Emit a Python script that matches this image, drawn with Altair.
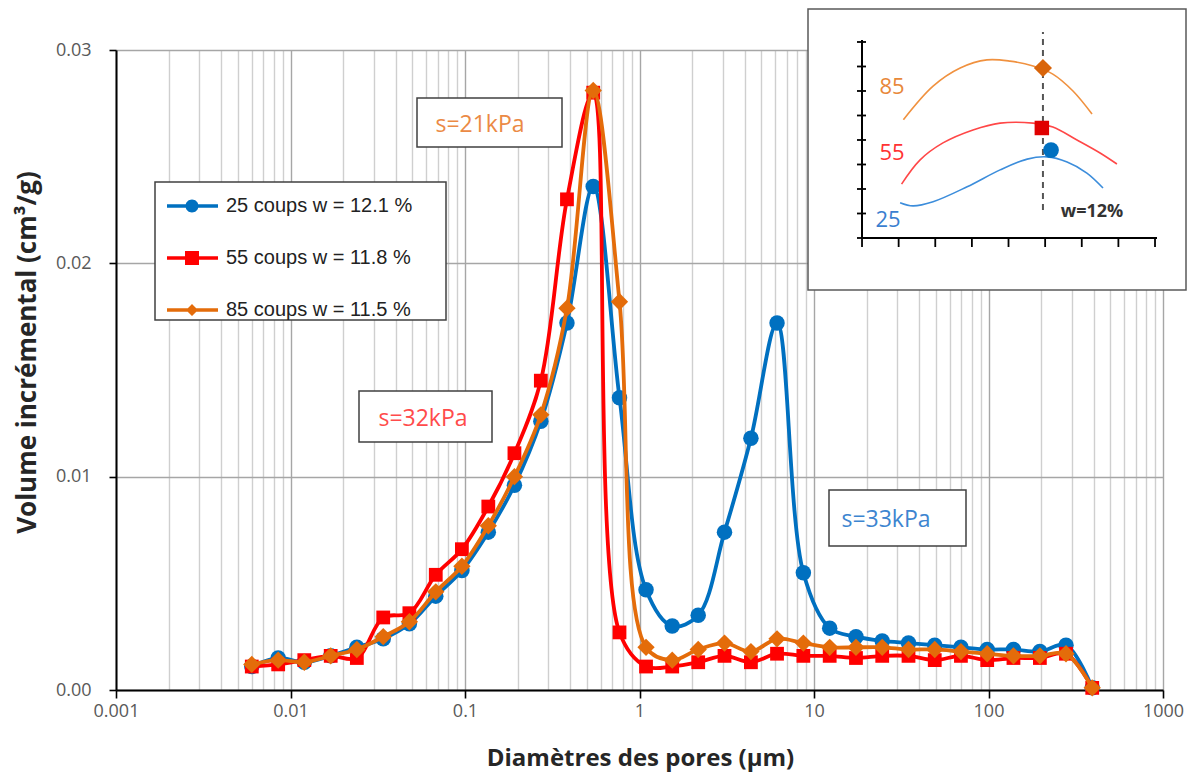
import altair as alt
import pandas as pd

# ---------------- data ----------------
diam = [0.006, 0.0085, 0.012, 0.017, 0.024, 0.034, 0.048, 0.068, 0.096, 0.136,
        0.192, 0.272, 0.384, 0.543, 0.768, 1.09, 1.54, 2.17, 3.07, 4.35,
        6.14, 8.69, 12.3, 17.4, 24.6, 34.8, 49.2, 69.5, 98.3, 139,
        197, 278, 393]
vol_25 = [0.0011, 0.0015, 0.0013, 0.0016, 0.0020, 0.0024, 0.0031, 0.0044, 0.0056, 0.0074,
          0.0096, 0.0126, 0.0172, 0.0236, 0.0137, 0.0047, 0.0030, 0.0035, 0.0074, 0.0118,
          0.0172, 0.0055, 0.0029, 0.0025, 0.0023, 0.0022, 0.0021, 0.0020, 0.0019, 0.0019,
          0.0018, 0.0021, 0.0001]
vol_55 = [0.0011, 0.0012, 0.0014, 0.0016, 0.0015, 0.0034, 0.0036, 0.0054, 0.0066, 0.0086,
          0.0111, 0.0145, 0.0230, 0.0280, 0.0027, 0.0011, 0.0011, 0.0013, 0.0016, 0.0013,
          0.0017, 0.0016, 0.0016, 0.0015, 0.0016, 0.0016, 0.0014, 0.0016, 0.0014, 0.0015,
          0.0015, 0.0017, 0.0001]
vol_85 = [0.0012, 0.0014, 0.0013, 0.0016, 0.0019, 0.0025, 0.0032, 0.0046, 0.0058, 0.0077,
          0.0100, 0.0129, 0.0179, 0.0281, 0.0182, 0.0020, 0.0014, 0.0019, 0.0022, 0.0018,
          0.0024, 0.0022, 0.0020, 0.0020, 0.0020, 0.0019, 0.0019, 0.0018, 0.0017, 0.0016,
          0.0016, 0.0017, 0.0001]

series_labels = ["25 coups w = 12.1 %", "55 coups w = 11.8 %", "85 coups w = 11.5 %"]
series_colors = ["#0070C0", "#FF0000", "#E46C0A"]
series_shapes = ["circle", "square", "diamond"]
series_sizes = [240, 190, 300]

y_ticks = [0, 0.01, 0.02, 0.03]
x_grid_values = [m * 10.0 ** e for e in range(-3, 3) for m in range(1, 10)] + [1000.0]

# inset (schematic) curves, in the inset's own units
ins_x_85 = [1.13, 1.94, 2.68, 3.41, 4.04, 4.67, 5.21, 5.76, 6.28]
ins_y_85 = [4.83, 6.20, 6.94, 7.27, 7.22, 7.02, 6.69, 6.00, 5.06]
ins_x_55 = [1.08, 1.58, 2.21, 3.03, 3.77, 4.67, 5.21, 5.87, 6.50, 6.96]
ins_y_55 = [2.20, 3.18, 3.88, 4.41, 4.69, 4.69, 4.53, 4.00, 3.47, 3.02]
ins_x_25 = [1.04, 1.39, 1.94, 2.87, 3.77, 4.51, 5.05, 5.60, 6.14, 6.58]
ins_y_25 = [1.44, 1.31, 1.48, 2.09, 2.78, 3.22, 3.31, 3.10, 2.65, 2.04]
ins_mark_x = [5.16, 4.91, 4.94]
ins_mark_y = [3.59, 4.49, 6.94]
ins_labels = ["25", "55", "85"]
ins_label_x = [0.71, 0.82, 0.82]
ins_label_y = [0.73, 3.47, 6.16]
ins_w_x = 4.94
ins_w_y = [1.14, 8.41]
ins_ticks = [0, 1, 2, 3, 4, 5, 6, 7, 8]

inset_line_colors = ["#3C8DDB", "#FF4747", "#F0913F"]
inset_label_colors = ["#3B7FD0", "#FF3333", "#E8883A"]
inset_mark_colors = ["#0070C0", "#E00000", "#D9650A"]

# ---------------- build tables ----------------
rows = []
for lab, vals in zip(series_labels, [vol_25, vol_55, vol_85]):
    for d, v in zip(diam, vals):
        rows.append({"serie": lab, "diam": d, "vol": v})
df = pd.DataFrame(rows)

DEC = "abs(log(datum.value)/LN10 - round(log(datum.value)/LN10)) < 0.01"

x_enc = alt.X(
    "diam:Q",
    scale=alt.Scale(type="log", domain=[0.001, 1000], nice=False),
    axis=alt.Axis(
        values=x_grid_values,
        labelExpr=f"({DEC}) ? format(datum.value, '~g') : ''",
        labelOverlap=False, labelFlush=False,
        title="Diamètres des pores (µm)",
        grid=True,
        gridColor={"condition": {"test": DEC, "value": "#a6a6a6"}, "value": "#cfcfcf"},
        gridWidth=1.4,
        tickOpacity={"condition": {"test": DEC, "value": 1}, "value": 0},
        tickColor="black", tickSize=8, tickWidth=1.6,
        domainColor="black", domainWidth=2,
        labelFont="Open Sans", labelFontSize=18, labelColor="#595959", labelPadding=4,
        titleFont="Open Sans", titleFontSize=24, titleFontWeight="bold", titleColor="#262626",
        titleX=524, titleY=68, titleBaseline="middle",
    ),
)
y_enc = alt.Y(
    "vol:Q",
    scale=alt.Scale(domain=[0, 0.03], nice=False),
    axis=alt.Axis(
        values=y_ticks, format=".2f",
        title="Volume incrémental (cm³/g)",
        grid=True, gridColor="#a6a6a6", gridWidth=1.4,
        tickColor="black", tickSize=7, tickWidth=1.6,
        domainColor="black", domainWidth=2,
        labelFont="Open Sans", labelFontSize=18, labelColor="#595959", labelPadding=18,
        titleFont="Open Sans", titleFontSize=26, titleFontWeight="bold", titleColor="#262626",
        titleX=-89, titleY=302, titleBaseline="middle",
    ),
)

one = pd.DataFrame({"k": [0]})


def box(x0, y0, x1, y1, stroke="#404040"):
    return alt.Chart(one).mark_rect(fill="white", stroke=stroke, strokeWidth=1.5).encode(
        x=alt.value(x0), x2=alt.value(x1), y=alt.value(y0), y2=alt.value(y1))


def label(txt, x, y, color, size=23, weight="normal"):
    return alt.Chart(one).mark_text(text=txt, font="Open Sans", fontSize=size, color=color,
                                    fontWeight=weight, align="center", baseline="middle").encode(
        x=alt.value(x), y=alt.value(y))


main_layers = [box(39, 132, 330, 270)]  # legend frame
for lab, col, shp, sz in zip(series_labels, series_colors, series_shapes, series_sizes):
    base = alt.Chart(df[df.serie == lab]).encode(x=x_enc, y=y_enc)
    main_layers.append(base.mark_line(color=col, strokeWidth=3.8, interpolate="catmull-rom"))
    main_layers.append(base.mark_point(filled=True, shape=shp, size=sz, color=col, opacity=1))

# legend (line + marker symbols)
legend_paths = [
    "M-1,-0.17L4.1,-0.17L4.1,0.17L-1,0.17Z M2.15,0A0.65,0.65 0 1,1 0.85,0A0.65,0.65 0 1,1 2.15,0Z",
    "M-1,-0.17L4.1,-0.17L4.1,0.17L-1,0.17Z M0.8,-0.7L2.2,-0.7L2.2,0.7L0.8,0.7Z",
    "M-1,-0.17L4.1,-0.17L4.1,0.17L-1,0.17Z M1.5,-0.6L2.1,0L1.5,0.6L0.9,0Z",
]
leg = alt.Legend(title=None, orient="none", legendX=39, legendY=134, padding=12,
                 symbolSize=400, symbolOpacity=1, symbolStrokeWidth=0,
                 labelFont="Liberation Sans", labelFontSize=20, labelColor="#222222",
                 labelOffset=39, rowPadding=32, labelLimit=500)
leg_df = df[df.diam == diam[0]]
main_layers.append(
    alt.Chart(leg_df).mark_point(filled=True, opacity=0).encode(
        x=x_enc, y=y_enc,
        fill=alt.Fill("serie:N", scale=alt.Scale(domain=series_labels, range=series_colors), legend=leg),
        shape=alt.Shape("serie:N", scale=alt.Scale(domain=series_labels, range=legend_paths), legend=leg),
    )
)

# annotation boxes
main_layers += [
    box(301, 48, 446, 97), label("s=21kPa", 364, 75, "#EB8A45"),
    box(243, 341, 376, 392), label("s=32kPa", 307, 369, "#FF4B4B"),
    box(713, 440, 850, 496), label("s=33kPa", 770, 470, "#3D85D0"),
]
main = alt.layer(*main_layers)

# ---------------- inset ----------------
ix_scale = alt.Scale(domain=[-20.369, 8.218], nice=False, zero=False)
iy_scale = alt.Scale(domain=[-18.449, 7.673], nice=False, zero=False)
ix = alt.X("ix:Q", scale=ix_scale, axis=None)
iy = alt.Y("iy:Q", scale=iy_scale, axis=None)

inset_layers = [box(692, -41, 1070, 240, stroke="#595959")]
inset_layers.append(alt.Chart(one).mark_rule(color="black", strokeWidth=2).encode(
    x=alt.value(746), y=alt.value(-10), y2=alt.value(189)))
inset_layers.append(alt.Chart(one).mark_rule(color="black", strokeWidth=2).encode(
    x=alt.value(745), x2=alt.value(1041), y=alt.value(188)))
tk = pd.DataFrame({"ix": ins_ticks, "iy": ins_ticks})
inset_layers.append(alt.Chart(tk).mark_rule(color="black", strokeWidth=1.8).encode(
    x=ix, y=alt.value(188), y2=alt.value(197)))
inset_layers.append(alt.Chart(tk).mark_rule(color="black", strokeWidth=1.8).encode(
    y=iy, x=alt.value(741), x2=alt.value(750)))

for xs, ys, col in zip([ins_x_25, ins_x_55, ins_x_85], [ins_y_25, ins_y_55, ins_y_85], inset_line_colors):
    inset_layers.append(alt.Chart(pd.DataFrame({"ix": xs, "iy": ys})).mark_line(
        color=col, strokeWidth=1.6, interpolate="catmull-rom").encode(x=ix, y=iy))

inset_layers.append(alt.Chart(pd.DataFrame({"ix": [ins_w_x, ins_w_x], "iy": ins_w_y})).mark_line(
    color="#555555", strokeWidth=2, strokeDash=[6, 5]).encode(x=ix, y=iy))

for mx, my, shp, col, sz in zip(ins_mark_x, ins_mark_y, series_shapes, inset_mark_colors, [250, 210, 330]):
    inset_layers.append(alt.Chart(pd.DataFrame({"ix": [mx], "iy": [my]})).mark_point(
        filled=True, shape=shp, size=sz, color=col, opacity=1).encode(x=ix, y=iy))

for t, lx, ly, col in zip(ins_labels, ins_label_x, ins_label_y, inset_label_colors):
    inset_layers.append(alt.Chart(pd.DataFrame({"ix": [lx], "iy": [ly]})).mark_text(
        text=t, font="Open Sans", fontSize=22, color=col, align="center", baseline="middle").encode(x=ix, y=iy))
inset_layers.append(alt.Chart(pd.DataFrame({"ix": [6.28], "iy": [1.06]})).mark_text(
    text="w=12%", font="Open Sans", fontSize=18, fontWeight="bold", color="#333333",
    align="center", baseline="middle").encode(x=ix, y=iy))

inset = alt.layer(*inset_layers)

chart = (
    alt.layer(main, inset)
    .resolve_scale(x="independent", y="independent")
    .properties(width=1047, height=640,
                padding={"left": 108, "top": 42, "right": 28, "bottom": 82},
                autosize=alt.AutoSizeParams(type="none"))
    .configure_view(stroke=None)
)

chart.save("out.html", embed_options={"renderer": "svg", "actions": False})
